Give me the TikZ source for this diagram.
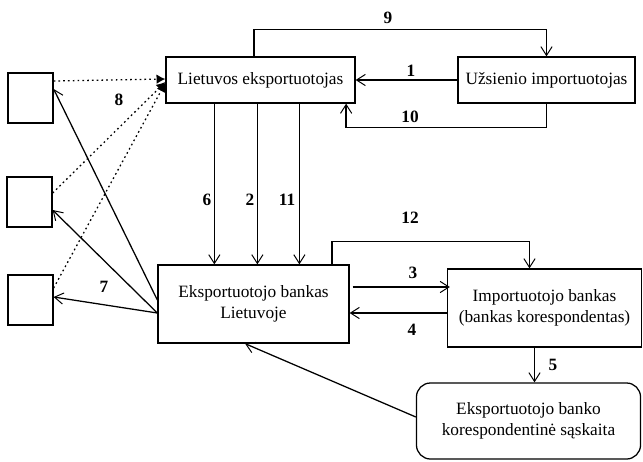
\documentclass[tikz,border=0pt]{standalone}
\usepackage{fontspec}
\setmainfont{Liberation Serif}
\usetikzlibrary{arrows.meta}
\tikzset{box/.style={draw, align=center, inner sep=0pt},
 sq/.style={draw, minimum width=1.125cm, minimum height=1.25cm, inner sep=0pt},
 num/.style={inner sep=1pt, font=\fontsize{12.3}{14.8}\selectfont\bfseries},
 arr/.style={-{Straight Barb[length=2.2mm,width=2.8mm,line width=0.7pt]}},
 dotarr/.style={dash pattern=on 1.2pt off 2.2pt, -{Latex[length=2.2mm,width=2.4mm]}},
 }

\begin{document}
\begin{tikzpicture}[x=0.025cm, y=-0.025cm, line width=0.9pt,
    font=\fontsize{12.3}{14.8}\selectfont]
        \useasboundingbox (0,0) rectangle (643,461);
        \node[box, minimum width=4.725cm, minimum height=1.15cm] (lt) at (260.5,80) {Lietuvos eksportuotojas};
        \node[box, minimum width=4.425cm, minimum height=1.15cm] (uz) at (546.5,80) {Užsienio importuotojas};
        \node[box, minimum width=4.775cm, minimum height=1.95cm] (bk) at (253.5,304) {Eksportuotojo bankas\\Lietuvoje};
        \node[box, minimum width=4.85cm, minimum height=1.95cm] (ib) at (544.5,308) {Importuotojo bankas\\(bankas korespondentas)};
        \node[box, rounded corners=0.35cm, minimum width=5.6cm, minimum height=1.9cm] (sa) at (528.5,421) {Eksportuotojo banko\\korespondentinė sąskaita};
        \node[sq] (sq1) at (30.5,98) {};
        \node[sq] (sq2) at (29.5,202) {};
        \node[sq] (sq3) at (30.5,300) {};

        \draw[arr] (uz) -- (lt);
        \draw[arr] ([xshift=-0.16cm]lt.north) |- ([yshift=0.675cm]uz.north) -- (uz.north);
        \draw[arr] (uz.south) -- ++(0,24) -| ([xshift=2.14cm]lt.south);
        \draw[arr] ([xshift=1.225cm]lt.south west) -- ([xshift=1.225cm]lt.south west |- bk.north);
        \draw[arr] ([xshift=2.3cm]lt.south west) -- ([xshift=2.3cm]lt.south west |- bk.north);
        \draw[arr] ([xshift=3.35cm]lt.south west) -- ([xshift=3.35cm]lt.south west |- bk.north);
        \draw[arr] ([xshift=1.96cm]bk.north) |- ([xshift=-0.375cm,yshift=0.675cm]ib.north) -- ([xshift=-0.375cm]ib.north);
        \draw[arr] ([xshift=0.075cm,yshift=0.425cm]bk.east) -- ([xshift=0.075cm,yshift=0.425cm]bk.east -| ib.west);
        \draw[arr] ([yshift=-0.225cm]bk.east -| ib.west) -- ([yshift=-0.225cm]bk.east);
        \draw[arr] ([xshift=-0.25cm]ib.south) -- ([xshift=-0.25cm]ib.south |- sa.north);
        \draw[arr] ([yshift=0.1cm]sa.west) -- ([xshift=-0.21cm]bk.south);
        \draw[arr] ([yshift=0.1cm]bk.west) -- ([yshift=0.225cm]sq1.east);
        \draw[arr] ([yshift=-0.225cm]bk.west) -- ([yshift=-0.2cm]sq2.east);
        \draw[arr] ([yshift=-0.225cm]bk.west) -- ([yshift=0.075cm]sq3.east);
        \draw[dotarr] ([yshift=0.425cm]sq1.east) -- ([yshift=0.025cm]lt.west);
        \draw[dotarr] ([yshift=0.225cm]sq2.east) -- ([yshift=-0.05cm]lt.west);
        \draw[dotarr] ([yshift=0.3cm]sq3.east) -- ([yshift=-0.075cm]lt.west);

        \node[num] (n1) at (411,71) {1};
        \node[num] (n2) at (250,200) {2};
        \node[num] (n3) at (413,273) {3};
        \node[num] (n4) at (412,330) {4};
        \node[num] (n5) at (553,365) {5};
        \node[num] (n6) at (207,200) {6};
        \node[num] (n7) at (104,287) {7};
        \node[num] (n8) at (119,100) {8};
        \node[num] (n9) at (388,18) {9};
        \node[num] (n10) at (410,117) {10};
        \node[num] (n11) at (287,200) {11};
        \node[num] (n12) at (410,218) {12};
    \end{tikzpicture}
\end{document}
